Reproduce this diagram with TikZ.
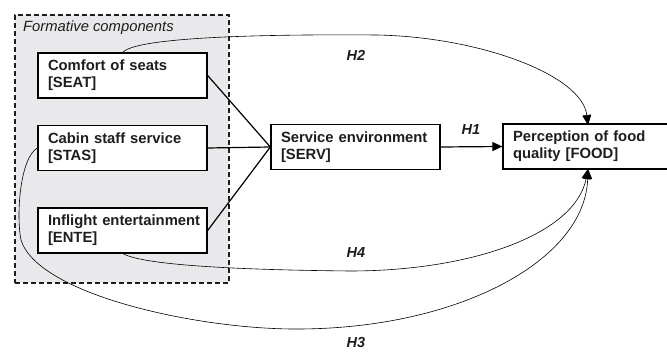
\documentclass[tikz,border=0pt]{standalone}
\usepackage{fontspec}
\setmainfont{Liberation Sans}
\usetikzlibrary{arrows.meta}
\definecolor{panel}{RGB}{233,233,236}
\definecolor{ink}{RGB}{30,30,30}
\begin{document}
\begin{tikzpicture}[x=1pt,y=-1pt,
  construct/.style={draw=black, line width=1.3pt, fill=white, text=ink,
    minimum width=169pt, minimum height=45pt, text width=149pt,
    inner xsep=10pt, inner ysep=0pt, align=left,
    font=\fontsize{14.8}{17}\selectfont\bfseries},
  path/.style={line width=1.2pt, black},
  hyp/.style={line width=0.6pt, black},
  tip/.style={-{Triangle[length=10pt,width=9pt]}},
  hlabel/.style={text=ink, font=\fontsize{14.5}{17}\selectfont\bfseries\itshape, inner sep=0pt}
]
\useasboundingbox (0,0) rectangle (667,352);
\begin{scope}
\clip (0,0) rectangle (667,352);
% formative panel
\node[draw=ink, dash pattern=on 5pt off 3pt, line width=1.2pt, fill=panel,
  minimum width=214pt, minimum height=268pt, inner sep=0pt] (panel) at (122,149) {};
\node[anchor=base west, inner sep=0pt, text=ink,
  font=\fontsize{14.8}{17}\selectfont\itshape] (ptitle) at (23,32) {Formative components};

\node[construct] (seat) at (122.5,75.5) {\mbox{Comfort of seats}\\\mbox{[SEAT]}};
\node[construct] (stas) at (122.5,148) {\mbox{Cabin staff service}\\\mbox{[STAS]}};
\node[construct] (ente) at (122.5,230.5) {\mbox{Inflight entertainment}\\\mbox{[ENTE]}};
\node[construct] (serv) at (355.5,147) {\mbox{Service environment}\\\mbox{[SERV]}};
\node[construct] (food) at (587.5,146.5) {\mbox{Perception of food}\\\mbox{quality [FOOD]}};

\draw[path] (seat.east) -- (serv.west);
\draw[path] (stas.east) -- (serv.west);
\draw[path] (ente.east) -- (serv.west);
\draw[path, tip] (serv.east) -- (food.west);

\coordinate (h2top) at (377,35);
\coordinate (h4low) at (350,271);
\coordinate (h3turn) at (21,240);
\coordinate (h3low) at (300,329);
\coordinate (foodtop) at (588,125);
\coordinate (foodbot) at (588,169);

\draw[hyp, tip] (seat.north -| 123,0) .. controls (135,38) and (250,34) .. (h2top)
  .. controls (480,37) and (582,75) .. (foodtop);
\draw[hyp, tip] (ente.south -| 123,0) .. controls (145,266) and (250,270) .. (h4low)
  .. controls (470,271) and (575,235) .. (foodbot);
\draw[hyp, tip] (stas.west) .. controls (20,158) and (16,215) .. (h3turn)
  .. controls (38,295) and (200,330) .. (h3low)
  .. controls (460,328) and (585,260) .. (foodbot);

\node[hlabel] (h1) at (471,130) {H1};
\node[hlabel] (h2) at (356,55) {H2};
\node[hlabel] (h4) at (356,253) {H4};
\node[hlabel] (h3) at (356,343) {H3};
\end{scope}
\end{tikzpicture}
\end{document}
